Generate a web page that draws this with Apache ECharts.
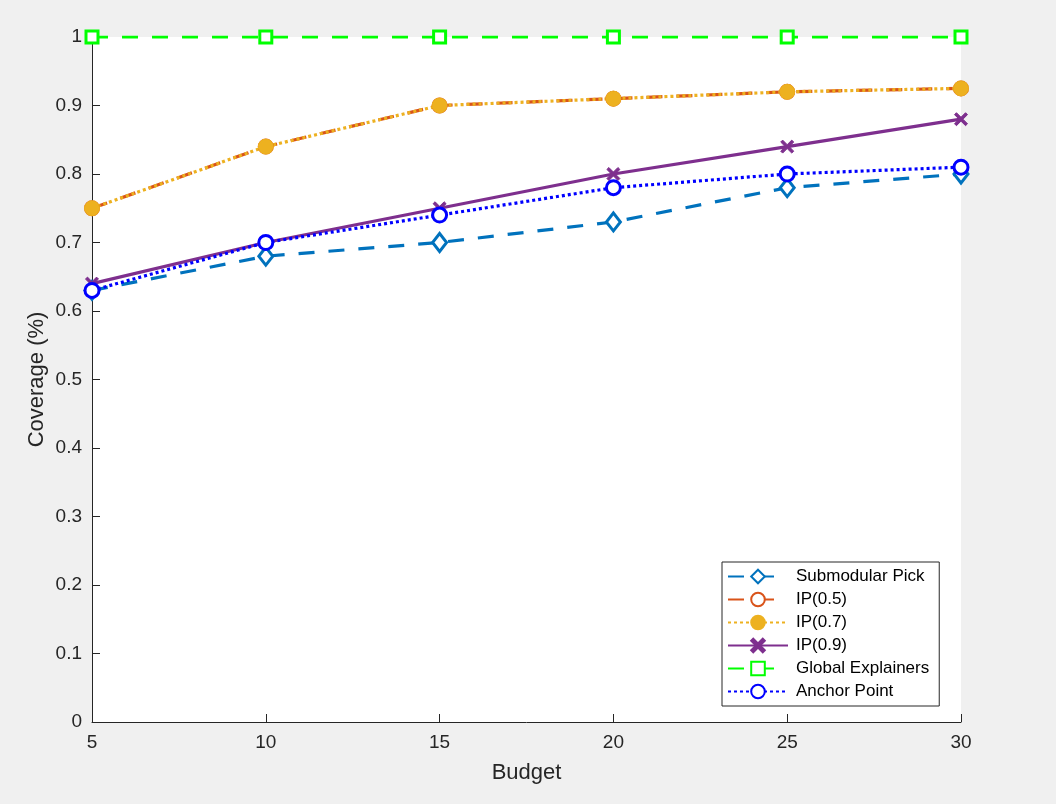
<!DOCTYPE html>
<html>
<head>
<meta charset="utf-8">
<script src="https://cdn.jsdelivr.net/npm/echarts@6/dist/echarts.min.js"></script>
<style>
html,body{margin:0;padding:0;background:#f0f0f0;}
#c{width:1056px;height:804px;}
</style>
</head>
<body>
<div id="c"></div>
<script>
const budgets = [5, 10, 15, 20, 25, 30];
const submodularPick = [0.63, 0.68, 0.70, 0.73, 0.78, 0.80];
const ip05 = [0.75, 0.84, 0.90, 0.91, 0.92, 0.925];
const ip07 = [0.75, 0.84, 0.90, 0.91, 0.92, 0.925];
const ip09 = [0.64, 0.70, 0.75, 0.80, 0.84, 0.88];
const globalExplainers = [1, 1, 1, 1, 1, 1];
const anchorPoint = [0.63, 0.70, 0.74, 0.78, 0.80, 0.81];
const yTicks = [0, 0.1, 0.2, 0.3, 0.4, 0.5, 0.6, 0.7, 0.8, 0.9, 1];

const FONT = '"Liberation Sans", Arial, Helvetica, sans-serif';
const TXT = '#262626';
const X_PATH = 'path://M1.5,0 L5,3.5 L8.5,0 L10,1.5 L6.5,5 L10,8.5 L8.5,10 L5,6.5 L1.5,10 L0,8.5 L3.5,5 L0,1.5 Z';
const DASH = [16, 14];
const DOT = [3, 3];

function pts(ys){ return budgets.map((x,i)=>[x, ys[i]]); }

function mk(name, data, color, lineType, symbol, size, hollow){
  return {
    name: name, type: 'line', data: pts(data),
    symbol: symbol, symbolSize: size, showSymbol: true,
    lineStyle: {color: color, width: 3.2, type: lineType},
    itemStyle: hollow ? {color: '#ffffff', borderColor: color, borderWidth: 3}
                      : {color: color, borderColor: color, borderWidth: 1},
    emphasis: {disabled: true},
    z: 2, animation: false
  };
}

const chart = echarts.init(document.getElementById('c'), null, {renderer: 'canvas'});
chart.setOption({
  backgroundColor: '#f0f0f0',
  animation: false,
  grid: {left: 92, right: 95, top: 37, bottom: 82, show: true, backgroundColor: '#ffffff', borderWidth: 0},
  xAxis: {
    type: 'value', min: 5, max: 30, interval: 5,
    name: 'Budget', nameLocation: 'middle', nameGap: 40,
    nameTextStyle: {fontFamily: FONT, fontSize: 22, color: TXT},
    axisLine: {show: true, lineStyle: {color: TXT, width: 1}},
    axisTick: {show: true, inside: true, length: 8, lineStyle: {color: TXT}},
    axisLabel: {fontFamily: FONT, fontSize: 19, color: TXT, margin: 11},
    splitLine: {show: false}
  },
  yAxis: {
    type: 'value', min: 0, max: 1, interval: 0.1,
    name: 'Coverage (%)', nameLocation: 'middle', nameGap: 44, nameMoveOverlap: false,
    nameTextStyle: {fontFamily: FONT, fontSize: 22, color: TXT},
    axisLine: {show: true, lineStyle: {color: TXT, width: 1}},
    axisTick: {show: true, inside: true, length: 8, lineStyle: {color: TXT}},
    axisLabel: {fontFamily: FONT, fontSize: 19, color: TXT, margin: 10,
      formatter: function(v){ const t = yTicks.find(k=>Math.abs(k-v)<1e-9); return String(t !== undefined ? t : v); }},
    splitLine: {show: false}
  },
  legend: {
    orient: 'vertical', left: 722, top: 562,
    backgroundColor: '#ffffff', borderColor: TXT, borderWidth: 1,
    padding: [6, 10, 6, 5], itemGap: 6, itemWidth: 60, itemHeight: 17,
    textStyle: {fontFamily: FONT, fontSize: 17, color: '#000000', padding: [0, 0, 0, 3]},
    data: ['Submodular Pick', 'IP(0.5)', 'IP(0.7)', 'IP(0.9)', 'Global Explainers', 'Anchor Point']
  },
  series: [
    mk('Submodular Pick', submodularPick, '#0072BD', DASH, 'diamond', [14, 18], true),
    mk('IP(0.5)', ip05, '#D95319', DASH, 'circle', 13, true),
    mk('IP(0.7)', ip07, '#EDB120', DOT, 'circle', 15, false),
    mk('IP(0.9)', ip09, '#7E2F8E', 'solid', X_PATH, 13, false),
    mk('Global Explainers', globalExplainers, '#00FF00', DASH, 'rect', 12, true),
    mk('Anchor Point', anchorPoint, '#0000FF', DOT, 'circle', 14, true)
  ]
});
</script>
</body>
</html>
